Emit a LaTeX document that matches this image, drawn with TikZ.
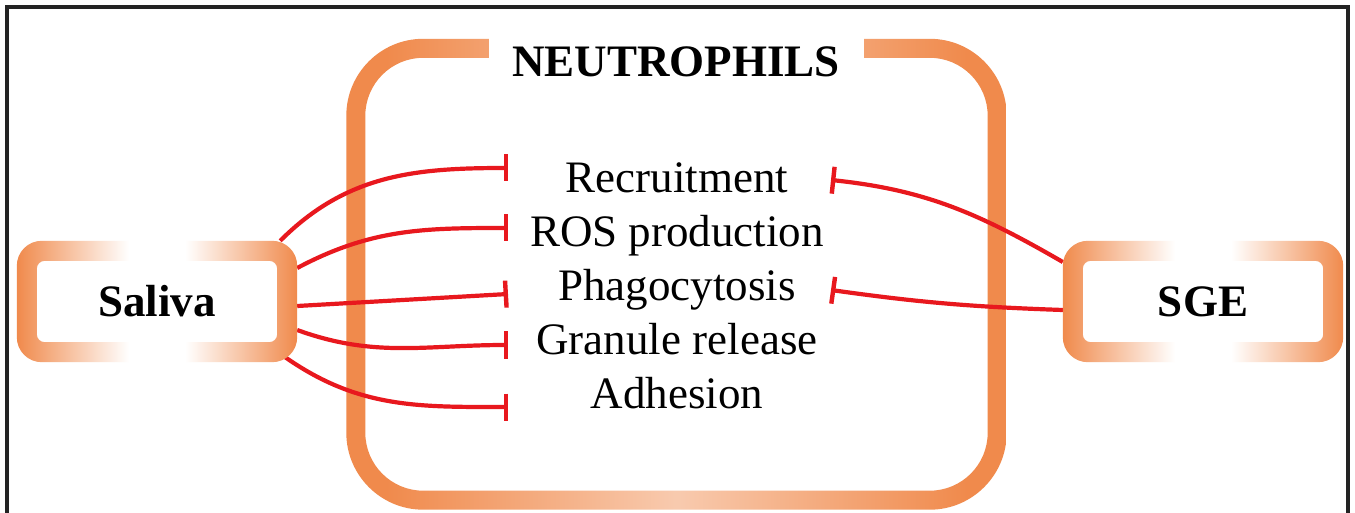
\documentclass[tikz,border=0pt]{standalone}
\usepackage{fontspec}
\setmainfont{Liberation Serif}
\usepackage{xcolor}
\usepackage{tikz}
\usetikzlibrary{arrows.meta, positioning, calc}
\definecolor{orng}{RGB}{240,138,76}
\definecolor{inhred}{RGB}{232,24,30}
\definecolor{framegray}{RGB}{35,35,35}
\colorlet{orngLight}{orng!45!white}
\colorlet{orngMid}{orng!50!white}
\pgfdeclarehorizontalshading{boxglow}{100bp}{color(0bp)=(orng); color(25bp)=(orng); color(35bp)=(orngMid); color(45bp)=(white); color(55bp)=(white); color(65bp)=(orngMid); color(75bp)=(orng); color(100bp)=(orng)}
\pgfdeclarehorizontalshading{cellglow}{100bp}{color(0bp)=(orng); color(28bp)=(orng); color(50bp)=(orngLight); color(72bp)=(orng); color(100bp)=(orng)}

% orange ring round a source node
\newcommand{\glowring}[1]{%
  \shade[shading=boxglow, even odd rule, rounded corners=25pt] (#1.south west) rectangle (#1.north east)
    [rounded corners=8pt] ([shift={(20pt,20pt)}]#1.south west) rectangle ([shift={(-20pt,-20pt)}]#1.north east);}

\begin{document}
\begin{tikzpicture}[
    x=1pt, y=1pt,
    srcbox/.style={rectangle, minimum width=280pt, minimum height=121pt, inner sep=0pt, font=\bfseries\fontsize{45}{54}\selectfont},
    item/.style={inner sep=0pt, text height=32pt, text depth=10pt, font=\fontsize{45}{54}\selectfont},
    title/.style={anchor=base, fill=white, minimum width=375pt, inner sep=0pt, text height=40pt, text depth=8pt, font=\bfseries\fontsize{45}{54}\selectfont},
    inhibit/.style={line width=4.2pt, color=inhred, -{Bar[width=27pt, line width=4.4pt]}}
]
\useasboundingbox (0,0) rectangle (1355,512);
\fill[white] (0,0) rectangle (1355,512);
\draw[line width=4pt, color=framegray] (7,-20) rectangle (1348,505);

% neutrophil cell
\node[minimum width=660pt, minimum height=470.5pt, inner sep=0pt] (cell) at (676.5,237.75) {};
\shade[shading=cellglow, even odd rule, rounded corners=77pt] (cell.south west) rectangle (cell.north east)
    [rounded corners=58pt] ([shift={(19pt,19pt)}]cell.south west) rectangle ([shift={(-19pt,-19pt)}]cell.north east);
\node[title] (title) at (676,435) {NEUTROPHILS};

\node[item, anchor=base] (recruit) at (677,319) {Recruitment};
\node[item, below=11.5pt of recruit] (ros) {ROS production};
\node[item, below=11.5pt of ros] (phago) {Phagocytosis};
\node[item, below=11.5pt of phago] (granule) {Granule release};
\node[item, below=11.5pt of granule] (adhes) {Adhesion};

\node[srcbox] (saliva) at (157,210.5) {Saliva};
\node[srcbox] (sge) at (1203,210.5) {SGE};

\coordinate (recL) at (508,344);
\coordinate (rosL) at (508,284);
\coordinate (phaL) at (508,218);
\coordinate (graL) at (508,167);
\coordinate (adhL) at (508,105);
\coordinate (recR) at (831,332);
\coordinate (phaR) at (831,222);

\draw[inhibit] ([xshift=-17pt]saliva.north east) to[out=45, in=180] (recL);
\draw[inhibit] ([yshift=33.5pt]saliva.east) to[out=28, in=180] (rosL);
\draw[inhibit] ([yshift=-4.5pt]saliva.east) -- (phaL);
\draw[inhibit] ([yshift=-28.5pt]saliva.east) to[out=-20, in=180] (graL);
\draw[inhibit] ([shift={(-12pt,5pt)}]saliva.south east) to[out=-35, in=180] (adhL);
\draw[inhibit] ([yshift=39.5pt]sge.west) to[out=150, in=-6] (recR);
\draw[inhibit] ([yshift=-8.5pt]sge.west) to[out=178, in=-8] (phaR);

\glowring{saliva}
\glowring{sge}
\end{tikzpicture}
\end{document}
